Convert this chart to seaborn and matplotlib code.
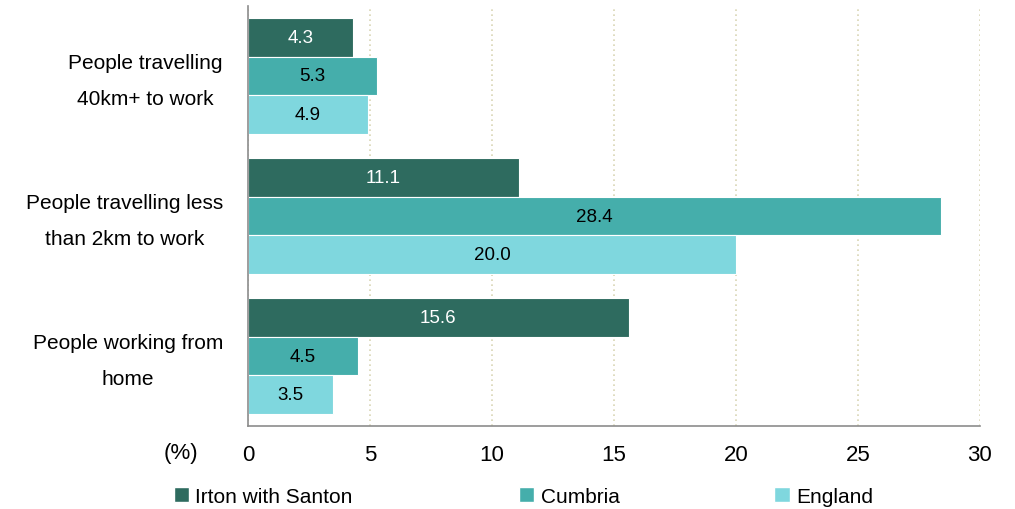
import pandas as pd
import seaborn as sns
import matplotlib.pyplot as plt
import matplotlib.transforms as mtransforms
from matplotlib.patches import Patch

categories = ["People travelling\n40km+ to work",
              "People travelling less\nthan 2km to work",
              "People working from\nhome"]
areas = ["Irton with Santon", "Cumbria", "England"]
irton = [4.3, 11.1, 15.6]
cumbria = [5.3, 28.4, 4.5]
england = [4.9, 20.0, 3.5]
x_ticks = [0, 5, 10, 15, 20, 25, 30]

colors = ["#2e6b5f", "#45aeab", "#7fd7de"]
label_colors = ["white", "black", "black"]

df = pd.DataFrame({
    "category": categories * 3,
    "area": [a for a in areas for _ in categories],
    "value": irton + cumbria + england,
})

sns.set_style("white")
plt.rcParams["font.family"] = ["Liberation Sans", "DejaVu Sans"]
plt.rcParams["text.color"] = "black"
plt.rcParams["xtick.labelcolor"] = "black"
plt.rcParams["ytick.labelcolor"] = "black"

fig = plt.figure(figsize=(10.15, 5.1), dpi=100)
ax = fig.add_axes([0.2443, 0.1627, 0.7212, 0.8236])

sns.barplot(data=df, y="category", x="value", hue="area", order=categories,
            hue_order=areas, palette=colors, orient="h", width=0.83,
            saturation=1, ax=ax, legend=False, edgecolor="white", linewidth=0.8)

for cont, c in zip(ax.containers, label_colors):
    ax.bar_label(cont, labels=[f"{v:.1f}" for v in cont.datavalues],
                 label_type="center", color=c, fontsize=13.5)

ax.set_xlim(0, 30)
ax.set_ylim(2.5, -0.5)
ax.set_xticks(x_ticks)
ax.set_xticklabels([str(t) for t in x_ticks], fontsize=16)
ax.set_xlabel("")
ax.set_ylabel("")
ax.tick_params(axis="x", direction="out", length=5, color="#8c8c8c", width=1.2, pad=8)
ax.tick_params(axis="y", which="major", length=0, pad=18, labelsize=15)
# nudge the two-line category labels up a little so they sit centred like the original
shift = mtransforms.ScaledTranslation(0, 0.06, fig.dpi_scale_trans)
for lab in ax.get_yticklabels():
    lab.set_multialignment("center")
    lab.set_linespacing(2.15)
    lab.set_transform(lab.get_transform() + shift)
ax.set_yticks([-0.5, 0.5, 1.5, 2.5], minor=True)
ax.tick_params(axis="y", which="minor", direction="out", length=7, color="#8c8c8c", width=1.2)

ax.grid(axis="x", linestyle=(0, (1, 2)), color="#d9d5b5", linewidth=1.2)
ax.set_axisbelow(True)
for side in ["top", "right"]:
    ax.spines[side].set_visible(False)
for side in ["left", "bottom"]:
    ax.spines[side].set_color("#8c8c8c")
    ax.spines[side].set_linewidth(1.2)

fig.text(0.161, 0.11, "(%)", fontsize=16, ha="left", va="center")

leg_x = [0.171, 0.511, 0.763]
for name, c, lx in zip(areas, colors, leg_x):
    leg = fig.legend(handles=[Patch(facecolor=c)], labels=[name], loc="center left",
                     bbox_to_anchor=(lx, 0.025), frameon=False, fontsize=15,
                     handlelength=0.75, handleheight=0.75, handletextpad=0.3,
                     borderaxespad=0, borderpad=0)

fig.savefig("out.png", dpi=100)
